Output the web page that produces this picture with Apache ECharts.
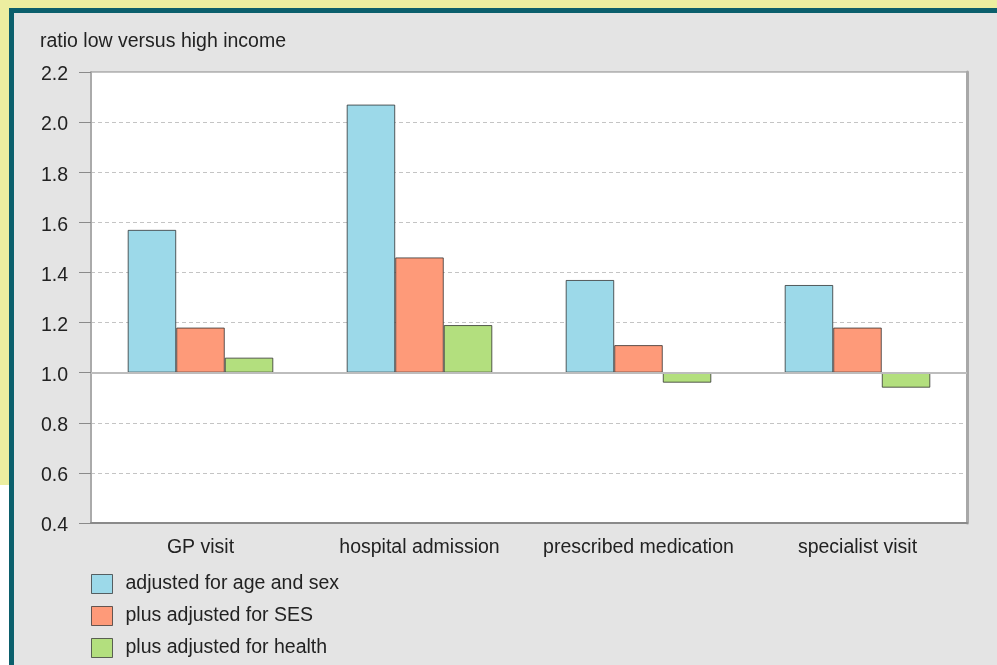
<!DOCTYPE html>
<html>
<head>
<meta charset="utf-8">
<style>
  html, body { margin: 0; padding: 0; background: #ffffff; }
  #chart { width: 997px; height: 665px; }
</style>
<script src="https://cdn.jsdelivr.net/npm/echarts@6/dist/echarts.min.js"></script>
</head>
<body>
<div id="chart"></div>
<script>
// Ratio of healthcare use, low versus high income
const categories = ['GP visit', 'hospital admission', 'prescribed medication', 'specialist visit'];
const seriesNames = ['adjusted for age and sex', 'plus adjusted for SES', 'plus adjusted for health'];
const ageSex = [1.57, 2.07, 1.37, 1.35];
const plusSES = [1.18, 1.46, 1.11, 1.18];
const plusHealth = [1.06, 1.19, 0.96, 0.94];
const colors = ['#9cd9e9', '#fe9a79', '#b3df7e'];
const yMin = 0.4, yMax = 2.2, yStep = 0.2;
const reference = 1.0;

const FONT = "'Liberation Sans', Arial, sans-serif";
const FS = 19.5;
const chart = echarts.init(document.getElementById('chart'), null, { renderer: 'canvas' });

// Bars grow from the reference ratio 1.0: an invisible stacked base
// carries each bar up (or down) to where the visible part begins.
const valueSets = [ageSex, plusSES, plusHealth];
const series = [];
valueSets.forEach((vals, i) => {
  const stack = 's' + i;
  series.push({
    type: 'bar', stack, silent: true, name: '__base' + i,
    data: vals.map(v => Math.min(v, reference)),
    itemStyle: { color: 'rgba(0,0,0,0)', borderWidth: 0 },
    emphasis: { disabled: true }
  });
  const s = {
    type: 'bar', stack, name: seriesNames[i],
    data: vals.map(v => +Math.abs(v - reference).toFixed(4)),
    itemStyle: { color: colors[i], borderColor: 'rgba(40,40,40,0.75)', borderWidth: 1 },
    barGap: '0%', barCategoryGap: '33.5%'
  };
  if (i === 0) {
    s.markLine = {
      silent: true, symbol: 'none', label: { show: false },
      lineStyle: { color: '#bdbdbd', width: 2, type: 'solid' },
      data: [{ yAxis: reference }]
    };
  }
  series.push(s);
});

chart.setOption({
  animation: false,
  textStyle: { fontFamily: FONT },
  graphic: [
    { type: 'rect', shape: { x: 0, y: 0, width: 997, height: 665 }, style: { fill: '#eceea0' }, z: -10 },
    { type: 'rect', shape: { x: 0, y: 485, width: 9, height: 180 }, style: { fill: '#ffffff' }, z: -10 },
    { type: 'rect', shape: { x: 9, y: 8, width: 988, height: 657 }, style: { fill: '#0b5f6c' }, z: -9 },
    { type: 'rect', shape: { x: 14, y: 13, width: 983, height: 652 }, style: { fill: '#e4e4e4' }, z: -8 }
  ],
  title: {
    text: 'ratio low versus high income',
    left: 40, top: 32, padding: 0,
    textStyle: { fontFamily: FONT, fontSize: FS, fontWeight: 'normal', color: '#222' }
  },
  legend: {
    orient: 'vertical', left: 91, top: 574, padding: 0,
    itemWidth: 21, itemHeight: 19, itemGap: 12,
    icon: 'rect',
    data: seriesNames,
    itemStyle: { borderColor: 'rgba(40,40,40,0.7)', borderWidth: 1 },
    textStyle: { fontFamily: FONT, fontSize: FS, color: '#222', padding: [0, 0, 0, 8] }
  },
  grid: {
    left: 91, right: 30, top: 72, bottom: 142,
    show: true, backgroundColor: '#ffffff', borderColor: '#8a8a8a', borderWidth: 1
  },
  xAxis: {
    type: 'category', data: categories,
    axisLine: { show: true, onZero: false, lineStyle: { color: '#8a8a8a', width: 2 } },
    axisTick: { show: false },
    axisLabel: { interval: 0, fontFamily: FONT, fontSize: FS, color: '#222', margin: 15 }
  },
  yAxis: [{
    type: 'value', min: yMin, max: yMax, interval: yStep,
    axisLine: { show: true, lineStyle: { color: '#aaaaaa', width: 2 } },
    axisTick: { show: true, length: 12, lineStyle: { color: '#8a8a8a', width: 1 } },
    axisLabel: {
      fontFamily: FONT, fontSize: FS, color: '#222', margin: 23,
      verticalAlign: 'top', lineHeight: 20, padding: [-7, 0, 0, 0],
      formatter: v => v.toFixed(1)
    },
    splitLine: { show: true, lineStyle: { color: '#c4c4c4', type: [4, 3], width: 1 } }
  }, {
    type: 'value', position: 'right', min: yMin, max: yMax, interval: yStep,
    axisLine: { show: true, lineStyle: { color: '#a8a8a8', width: 3 } },
    axisTick: { show: false }, axisLabel: { show: false }, splitLine: { show: false }
  }],
  series
});
</script>
</body>
</html>
